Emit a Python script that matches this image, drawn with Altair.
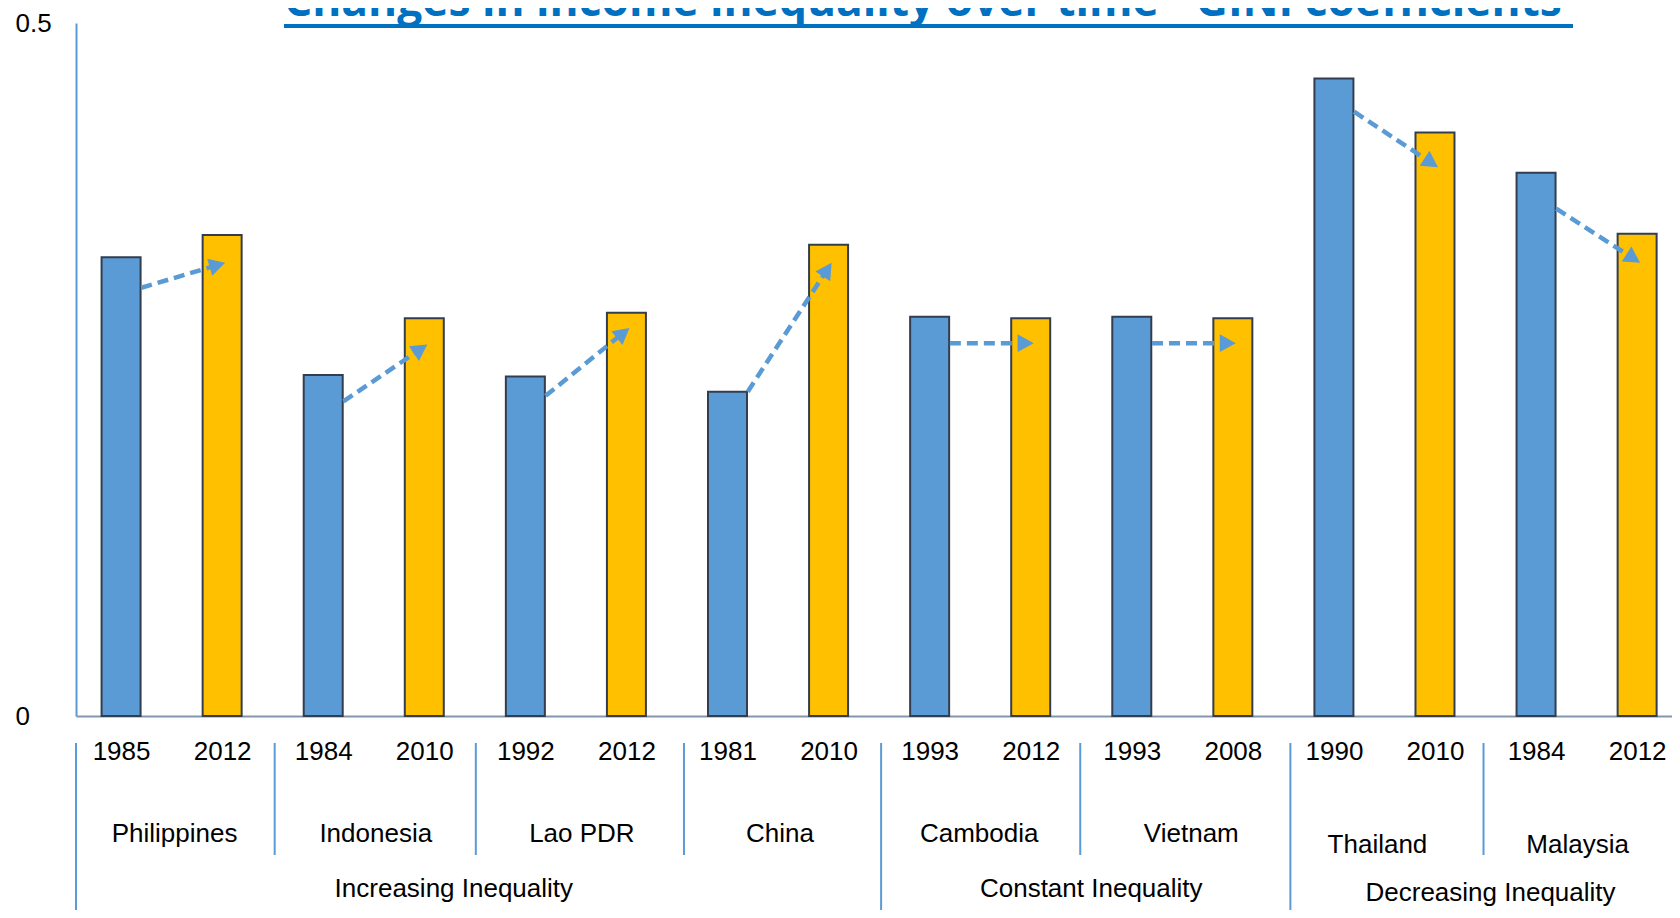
import math
import altair as alt
import pandas as pd

# ---------------- data ----------------
countries = ["Philippines", "Indonesia", "Lao PDR", "China", "Cambodia", "Vietnam", "Thailand", "Malaysia"]
groups = ["Increasing Inequality"] * 4 + ["Constant Inequality"] * 2 + ["Decreasing Inequality"] * 2
start_years = ["1985", "1984", "1992", "1981", "1993", "1993", "1990", "1984"]
end_years = ["2012", "2010", "2012", "2010", "2012", "2008", "2010", "2012"]
start_gini = [0.331, 0.246, 0.245, 0.234, 0.288, 0.288, 0.460, 0.392]
end_gini = [0.347, 0.287, 0.291, 0.340, 0.287, 0.287, 0.421, 0.348]
# levels where the trend arrows leave the first bar and reach the second one
arrow_from = [0.309, 0.227, 0.231, 0.234, 0.269, 0.269, 0.436, 0.366]
arrow_to = [0.327, 0.268, 0.280, 0.327, 0.269, 0.269, 0.396, 0.327]
title_text = "Changes in income inequality over time - GINI coefficients"

# ---------------- layout / style ----------------
W, H = 1596, 693
PAD = {"left": 68, "top": 15, "right": 0, "bottom": 194}
PX = 101.07                     # pixels per bar slot
XMIN = -0.446
XMAX = XMIN + W / PX
YMAX = 0.5
PY = H / YMAX
BLUE, GOLD, OUTLINE = "#5B9BD5", "#FFC000", "#323E4F"
FONT = "Liberation Sans"
# small horizontal nudges (pixels) of labels and dividers, as in the original slide
country_nudge = {"Philippines": 3, "Indonesia": 2, "Lao PDR": 6, "China": 2, "Cambodia": -1,
                 "Vietnam": 9, "Thailand": -7, "Malaysia": -9}
group_nudge = {"Increasing Inequality": -21, "Constant Inequality": 10, "Decreasing Inequality": 5}
sep_nudge = [2, 1, 7, 2, -1, 7, -2]

xs = alt.Scale(domain=[XMIN, XMAX], nice=False, zero=False, padding=0)
ys = alt.Scale(domain=[0, YMAX], nice=False, padding=0)

# ---------------- tables built from the lists ----------------
rows = []
for k, c in enumerate(countries):
    rows.append({"idx": 2 * k, "value": start_gini[k], "series": "start", "year": start_years[k], "country": c})
    rows.append({"idx": 2 * k + 1, "value": end_gini[k], "series": "end", "year": end_years[k], "country": c})
bars = pd.DataFrame(rows)
year_labels = [r["year"] for r in rows]
label_expr = "[" + ",".join(f"'{y}'" for y in year_labels) + "][datum.value]"

clabels = pd.DataFrame({"country": countries, "group": groups,
                        "xc": [2 * k + 0.5 + country_nudge[c] / PX for k, c in enumerate(countries)]})
gl = []
for g in dict.fromkeys(groups):
    ks = [k for k, gg in enumerate(groups) if gg == g]
    gl.append({"group": g, "xc": (2 * ks[0] + 2 * ks[-1] + 1) / 2 + group_nudge[g] / PX})
glabels = pd.DataFrame(gl)

seps = [{"x": XMIN, "kind": "group"}]
for k in range(1, len(countries)):
    seps.append({"x": 2 * k - 0.5 + sep_nudge[k - 1] / PX,
                 "kind": "group" if groups[k] != groups[k - 1] else "country"})
seps = pd.DataFrame(seps)

arr = []
for k in range(len(countries)):
    sx, sy = 2 * k + 0.2, arrow_from[k]
    tx, ty = 2 * k + 1 + 0.03, arrow_to[k]
    dx, dy = (tx - sx) * PX, -(ty - sy) * PY
    ln = math.hypot(dx, dy)
    ux, uy = dx / ln, dy / ln
    arr.append({"sx": sx, "sy": sy, "tx": tx, "ty": ty,
                "ex": tx - 12 * ux / PX, "ey": ty + 12 * uy / PY,
                "ang": math.degrees(math.atan2(dy, dx)) % 360})
arrows = pd.DataFrame(arr)

# ---------------- shared axes ----------------
x_axis = alt.Axis(
    values=list(range(len(bars))), labelExpr=label_expr, labelFlush=False, labelOverlap=False,
    ticks=False, tickSize=0, grid=False, title=None, domainColor="#8497B0", domainWidth=2,
    labelPadding=35, labelBaseline="middle", labelFontSize=26, labelFont=FONT, labelColor="#000000")
y_axis = alt.Axis(
    values=[0, 0.5], format="~g", ticks=False, tickSize=0, grid=False, title=None,
    domainColor=BLUE, domainWidth=2, labelAlign="left", labelPadding=61, labelBaseline="middle",
    labelFontSize=26, labelFont=FONT, labelColor="#000000")

def X(field):
    return alt.X(field, scale=xs, axis=x_axis)

def Y(field):
    return alt.Y(field, scale=ys, axis=y_axis, stack=None)

# ---------------- layers ----------------
bar_layer = alt.Chart(bars).mark_bar(size=39, stroke=OUTLINE, strokeWidth=2, orient="vertical").encode(
    x=X("idx:Q"), y=Y("value:Q"),
    color=alt.Color("series:N", scale=alt.Scale(domain=["start", "end"], range=[BLUE, GOLD]), legend=None),
)

arrow_lines = alt.Chart(arrows).mark_rule(color=BLUE, strokeWidth=4.5, strokeDash=[11, 6]).encode(
    x=X("sx:Q"), y=Y("sy:Q"), x2="ex:Q", y2="ey:Q")

arrow_heads = alt.Chart(arrows).mark_point(
    shape="M0,0L-2,-1.1L-2,1.1Z", filled=True, size=260, color=BLUE, opacity=1, strokeWidth=0).encode(
    x=X("tx:Q"), y=Y("ty:Q"), angle=alt.Angle("ang:Q", scale=None))

sep_country = alt.Chart(seps).transform_filter("datum.kind == 'country'").mark_rule(
    color=BLUE, strokeWidth=2).encode(x=X("x:Q"), y=alt.value(720), y2=alt.value(832))
sep_group = alt.Chart(seps).transform_filter("datum.kind == 'group'").mark_rule(
    color=BLUE, strokeWidth=2).encode(x=X("x:Q"), y=alt.value(720), y2=alt.value(900))

txt = dict(fontSize=26, font=FONT, color="#000000", align="center", baseline="middle")
country_a = alt.Chart(clabels).transform_filter("datum.group != 'Decreasing Inequality'").mark_text(**txt).encode(
    x=X("xc:Q"), y=alt.value(811), text="country:N")
country_b = alt.Chart(clabels).transform_filter("datum.group == 'Decreasing Inequality'").mark_text(**txt).encode(
    x=X("xc:Q"), y=alt.value(822), text="country:N")
group_a = alt.Chart(glabels).transform_filter("datum.group != 'Decreasing Inequality'").mark_text(**txt).encode(
    x=X("xc:Q"), y=alt.value(866), text="group:N")
group_b = alt.Chart(glabels).transform_filter("datum.group == 'Decreasing Inequality'").mark_text(**txt).encode(
    x=X("xc:Q"), y=alt.value(870), text="group:N")

title_df = pd.DataFrame({"t": [title_text]})
title = alt.Chart(title_df).mark_text(
    font="Open Sans", fontWeight="bold", fontSize=44.3, color="#0070C0", align="left", baseline="alphabetic").encode(
    x=alt.value(208), y=alt.value(-7), text="t:N")
underline = alt.Chart(title_df).mark_rule(color="#0070C0", strokeWidth=4).encode(
    x=alt.value(208), x2=alt.value(1497), y=alt.value(3))

chart = alt.layer(
    bar_layer, arrow_lines, arrow_heads, sep_country, sep_group,
    country_a, country_b, group_a, group_b, title, underline
).properties(
    width=W, height=H, padding=PAD, autosize=alt.AutoSizeParams(type="none")
).configure_view(stroke=None)

chart.save("out.html", embed_options={"renderer": "svg", "actions": False})
